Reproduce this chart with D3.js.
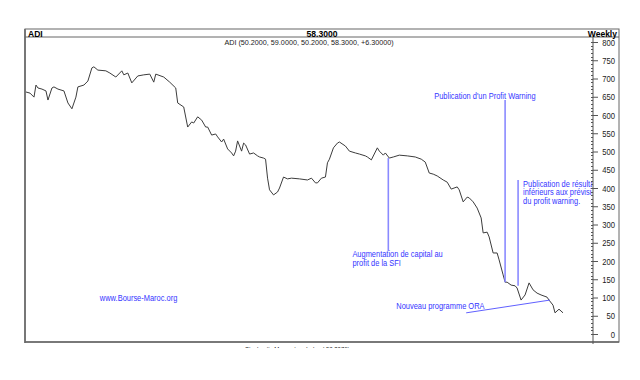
<!DOCTYPE html>
<html><head><meta charset="utf-8">
<script src="https://cdn.jsdelivr.net/npm/d3@7"></script>
<style>
html,body{margin:0;padding:0;background:#fff;}
svg text{font-family:"Liberation Sans Narrow","Arial Narrow","Liberation Sans",Arial,sans-serif;}
</style></head>
<body><svg id="c" width="640" height="380"></svg>
<script>
const weeks = [0,2,4,5,6,8,10,11,13,14,16,19,21,23,25,26,29,31,33,34,36,40,42,45,48,49,51,53,56,59,62,64,65,69,72,75,76,79,81,83,84,86,88,90,91,93,95,96,98,99,101,103,104,105,106,108,109,110,112,114,116,117,119,120,121,122,124,126,127,129,131,133,137,141,143,145,146,148,150,151,152,154,156,157,160,162,165,167,170,171,173,176,177,179,180,182,184,187,191,195,198,200,202,204,206,209,211,213,216,217,219,221,222,224,226,228,229,231,232,234,236,237,239,240,241,243,245,246,248,250,252,254,256,258,261,262,264,265,267,269];
const closes = [663,660,649,682,674,671,666,641,674,677,671,666,633,617,649,677,682,693,729,732,723,721,715,704,721,710,715,688,707,710,712,690,712,704,690,674,633,622,567,581,578,595,586,567,567,545,548,540,526,534,507,496,488,501,529,501,523,518,493,496,488,485,482,479,427,395,381,389,400,430,425,427,425,422,427,414,414,427,430,469,479,510,523,526,515,501,496,493,488,485,477,510,501,490,496,482,485,490,488,485,479,471,441,438,433,422,416,397,403,395,362,375,373,362,345,318,277,279,266,222,222,203,162,142,142,134,132,126,93,107,140,121,112,107,101,93,79,58,68,58];
const yTicks = [0,50,100,150,200,250,300,350,400,450,500,550,600,650,700,750,800];

const headerLeft = "ADI", headerCenter = "58.3000", headerRight = "Weekly";
const subtitle = "ADI (50.2000, 59.0000, 50.2000, 58.3000, +6.30000)";
const nextPaneTitle = "Stochastic Momentum Index ( 58.2076)";

// annotation vertical lines: week, top value, bottom value
const vLineWeeks = [181.5, 240, 246.5];
const vLineTops = [482, 641, 422];
const vLineBottoms = [227, 142, 132];
// ORA line
const oraWeeks = [220.5, 262.5];
const oraValues = [58, 93];
// annotation texts (the third one is cut by the price axis in the original)
const noteTexts = [["Augmentation de capital au","profit de la SFI"],["Publication d'un Profit Warning"],["Publication de résulta","inférieurs aux prévisi","du profit warning."],["Nouveau programme ORA"],["www.Bourse-Maroc.org"]];
const noteWeeks = [163.5, 204.5, 249, 185.5, 37];
const noteValues = [210, 645, 404, 68, 90];

const svg = d3.select("#c");
const L=25, R=619, T=29, HB=37, B=342, AX=593;
const SX = 0.9; // narrow font look
const x = d3.scaleLinear().domain([0,269]).range([26,563]);
const y = d3.scaleLinear().domain([0,800]).range([334,42]);

function ntext(parent, px, py, size, anchor){
  return parent.append("text").attr("transform",`translate(${px},${py}) scale(${SX},1)`)
    .attr("font-size",size).attr("text-anchor",anchor||"start");
}

// frame
svg.append("rect").attr("x",L).attr("y",T).attr("width",R-L).attr("height",B-T).attr("fill","none").attr("stroke","#666").attr("stroke-width",1);
svg.append("line").attr("x1",L).attr("x2",L).attr("y1",T).attr("y2",B+1).attr("stroke","#777").attr("stroke-width",2);
svg.append("line").attr("x1",L).attr("x2",R).attr("y1",HB).attr("y2",HB).attr("stroke","#666");
svg.append("line").attr("x1",L).attr("x2",R).attr("y1",B).attr("y2",B).attr("stroke","#666").attr("stroke-width",1.5);

ntext(svg,L+3,T+7.5,9.5).attr("font-weight","bold").text(headerLeft);
ntext(svg,(L+R)/2,T+7.5,9.5,"middle").attr("font-weight","bold").text(headerCenter);
ntext(svg,R-2,T+7.5,9.5,"end").attr("font-weight","bold").text(headerRight);
ntext(svg,(L+AX)/2,HB+8,8,"middle").attr("fill","#222").text(subtitle);

// axis
svg.append("line").attr("x1",AX).attr("x2",AX).attr("y1",HB).attr("y2",B+2).attr("stroke","#555");
const minor = d3.range(0,801,10);
svg.append("g").selectAll("line").data(minor).join("line")
  .attr("x1",AX-2).attr("x2",AX).attr("y1",d=>Math.round(y(d))+0.5).attr("y2",d=>Math.round(y(d))+0.5).attr("stroke","#555");
const axis = d3.axisRight(y).tickValues(yTicks).tickSize(5).tickFormat(d3.format("d"));
const ag = svg.append("g").attr("transform",`translate(${AX},0)`).call(axis);
ag.select(".domain").remove();
ag.selectAll(".tick line").attr("stroke","#555");
ag.selectAll(".tick text").attr("x",null).attr("dy",null)
  .attr("transform",`translate(22,3) scale(${SX},1)`).attr("text-anchor","end").attr("font-size",8.5).attr("fill","#222")
  .attr("font-family","\"Liberation Sans Narrow\",\"Liberation Sans\",Arial,sans-serif");

// clip for plot
svg.append("clipPath").attr("id","pc").append("rect").attr("x",L+1).attr("y",HB+1).attr("width",AX-L-2).attr("height",B-HB-1);
const pg = svg.append("g").attr("clip-path","url(#pc)");

// price line
const pts = weeks.map((w,i)=>[w,closes[i]]);
pg.append("path").datum(pts).attr("fill","none").attr("stroke","#3c3c3c").attr("stroke-width",1)
  .attr("d",d3.line().x(d=>x(d[0])).y(d=>y(d[1])));

// annotation lines
const blueLine = "#8a8aff";
vLineWeeks.forEach((w,i)=>{
  pg.append("line").attr("x1",x(w)).attr("x2",x(w)).attr("y1",y(vLineTops[i])).attr("y2",y(vLineBottoms[i]))
    .attr("stroke",blueLine).attr("stroke-width",1.6);
});
pg.append("line").attr("x1",x(oraWeeks[0])).attr("y1",y(oraValues[0])).attr("x2",x(oraWeeks[1])).attr("y2",y(oraValues[1]))
  .attr("stroke","#6060ff").attr("stroke-width",1);

noteTexts.forEach((lines,i)=>{
  const t = ntext(pg, x(noteWeeks[i]), y(noteValues[i]), 8.3).attr("fill","#3535ff");
  lines.forEach((s,j)=>t.append("tspan").attr("x",0).attr("dy",j?8.8:0).text(s));
});

// clipped next pane title
svg.append("clipPath").attr("id","bc").append("rect").attr("x",0).attr("y",B+1).attr("width",640).attr("height",5);
const bg = svg.append("g").attr("clip-path","url(#bc)");
bg.append("text").attr("transform",`translate(245,${B+10}) scale(0.75,1)`).attr("font-size",8).attr("fill","#222").text(nextPaneTitle);
</script></body></html>
